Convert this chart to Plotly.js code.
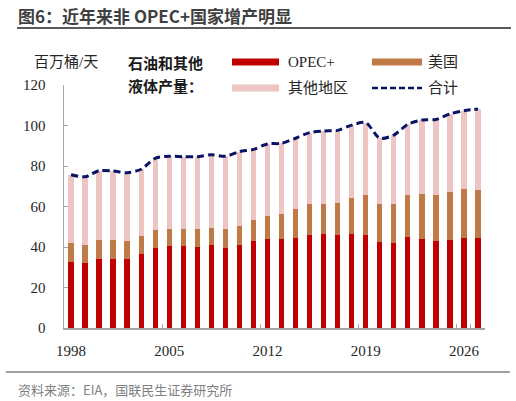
<!DOCTYPE html>
<html>
<head>
<meta charset="utf-8">
<script src="https://cdn.plot.ly/plotly-3.0.1.min.js"></script>
<style>
	html, body { margin: 0; padding: 0; background: #fff; }
	#chart { width: 516px; height: 401px; }
</style>
</head>
<body>
<div id="chart"></div>
<script>
	"use strict";

	// 石油和其他液体产量, 百万桶/天
	const years = [
		1998, 1999, 2000, 2001, 2002, 2003, 2004, 2005, 2006, 2007,
		2008, 2009, 2010, 2011, 2012, 2013, 2014, 2015, 2016, 2017,
		2018, 2019, 2020, 2021, 2022, 2023, 2024, 2025, 2026, 2027
	].map(String);
	const opec = [
		32.4, 32.1, 34.2, 34.2, 34.1, 36.7, 39.7, 40.5, 40.5, 40.2,
		40.8, 39.7, 40.8, 43.1, 44.0, 44.0, 44.4, 45.8, 46.4, 45.8,
		46.4, 45.9, 42.6, 42.0, 45.1, 44.1, 42.8, 43.5, 44.6, 44.6
	];
	const usa = [
		9.4, 9.0, 9.3, 9.3, 9.0, 8.7, 8.9, 8.4, 8.4, 8.7,
		8.6, 9.2, 9.7, 10.2, 11.1, 12.3, 14.2, 15.3, 15.0, 15.8,
		17.8, 19.8, 18.6, 19.2, 20.6, 22.1, 22.9, 23.7, 24.0, 23.7
	];
	const other = [
		33.9, 33.6, 34.2, 34.0, 33.6, 33.0, 35.2, 35.9, 35.7, 35.7,
		36.2, 35.9, 36.6, 34.9, 35.8, 34.9, 35.1, 35.4, 35.9, 36.0,
		36.0, 35.7, 32.5, 34.1, 34.9, 36.5, 37.3, 38.5, 38.7, 39.8
	];
	const total = opec.map((v, i) => +(v + usa[i] + other[i]).toFixed(1));
	const tickYears = ["1998", "2005", "2012", "2019", "2026"];

	const RED = "#C00000";
	const BROWN = "#C07A48";
	const PINK = "#EDC5C5";
	const NAVY = "#0A1466";
	const SERIF = "Liberation Serif, Noto Sans CJK SC, serif";
	const SANS = "Noto Sans CJK SC, sans-serif";

	// plot box in pixels, used to place the hand-made legend and captions
	const L = 64, R = 485, T = 85, B = 328;
	const fx = px => (px - L) / (R - L);
	const fy = py => (B - py) / (B - T);

	function bar(y, color) {
		return { type: "bar", x: years, y, marker: { color, line: { width: 0 } }, showlegend: false, hoverinfo: "y" };
	}

	const traces = [
		bar(opec, RED),
		bar(usa, BROWN),
		bar(other, PINK),
		{
			type: "scatter", mode: "lines", x: years, y: total, showlegend: false,
			line: { color: NAVY, width: 3, dash: "7px,4px", shape: "spline", smoothing: 0.8 },
		},
	];

	function note(text, px, py, font, anchor) {
		return {
			text, x: fx(px), y: fy(py), xref: "paper", yref: "paper",
			xanchor: anchor || "left", yanchor: "middle", showarrow: false, font,
		};
	}

	function hline(x0, x1, py, color, width, dash) {
		return {
			type: "line", xref: "paper", yref: "paper",
			x0: fx(x0), x1: fx(x1), y0: fy(py), y1: fy(py),
			line: { color, width, dash: dash || "solid" },
		};
	}

	function swatch(x0, x1, py, color) {
		return {
			type: "rect", xref: "paper", yref: "paper",
			x0: fx(x0), x1: fx(x1), y0: fy(py + 3.5), y1: fy(py - 3.5),
			fillcolor: color, line: { width: 0 },
		};
	}

	const labelFont = { family: SERIF, size: 15, color: "#262626" };
	const boldFont = { family: SANS, size: 15, color: "#1a1a1a", weight: "bold" };

	const annotations = [
		note("<b>图6：近年来非 OPEC+国家增产明显</b>", 16, 15,
			{ family: SANS, size: 17, color: "#404040" }),
		note("资料来源：EIA，国联民生证券研究所", 16, 389,
			{ family: SANS, size: 13, color: "#7f7f7f" }),
		note("百万桶/天", 32, 62, labelFont),
		note("<b>石油和其他</b>", 126, 62, boldFont),
		note("<b>液体产量：</b>", 126, 85, boldFont),
		note("OPEC+", 286, 62, labelFont),
		note("美国", 426, 62, labelFont),
		note("其他地区", 286, 88, labelFont),
		note("合计", 426, 88, labelFont),
	];

	const shapes = [
		hline(17, 511, 28, "#595959", 2),
		hline(6, 510, 372, "#808080", 1.5),
		swatch(232, 279, 62, RED),
		swatch(372, 422, 62, BROWN),
		swatch(232, 279, 88, PINK),
		hline(372, 422, 88, NAVY, 2.5, "6px,3px"),
	];

	const axisLine = "#A6A6A6";

	const layout = {
		width: 516,
		height: 401,
		margin: { l: L, r: 516 - R, t: T, b: 401 - B, pad: 0 },
		paper_bgcolor: "#ffffff",
		plot_bgcolor: "#ffffff",
		barmode: "stack",
		bargap: 0.62,
		showlegend: false,
		xaxis: {
			type: "category",
			range: [-0.5, years.length - 0.5],
			tickmode: "array",
			tickvals: tickYears,
			ticktext: tickYears,
			tickson: "boundaries",
			tickangle: 0,
			ticks: "inside",
			ticklen: 4,
			tickcolor: axisLine,
			showline: true,
			linecolor: axisLine,
			linewidth: 1.5,
			showgrid: false,
			zeroline: false,
			ticklabelstandoff: 8,
			tickfont: labelFont,
			fixedrange: true,
		},
		yaxis: {
			range: [0, 120],
			dtick: 20,
			ticks: "inside",
			ticklen: 4,
			tickcolor: axisLine,
			showline: true,
			linecolor: axisLine,
			linewidth: 1.5,
			showgrid: false,
			zeroline: false,
			ticklabelstandoff: 14,
			tickfont: labelFont,
			fixedrange: true,
		},
		annotations,
		shapes,
	};

	Plotly.newPlot("chart", traces, layout, { displayModeBar: false, staticPlot: true });
</script>
</body>
</html>
